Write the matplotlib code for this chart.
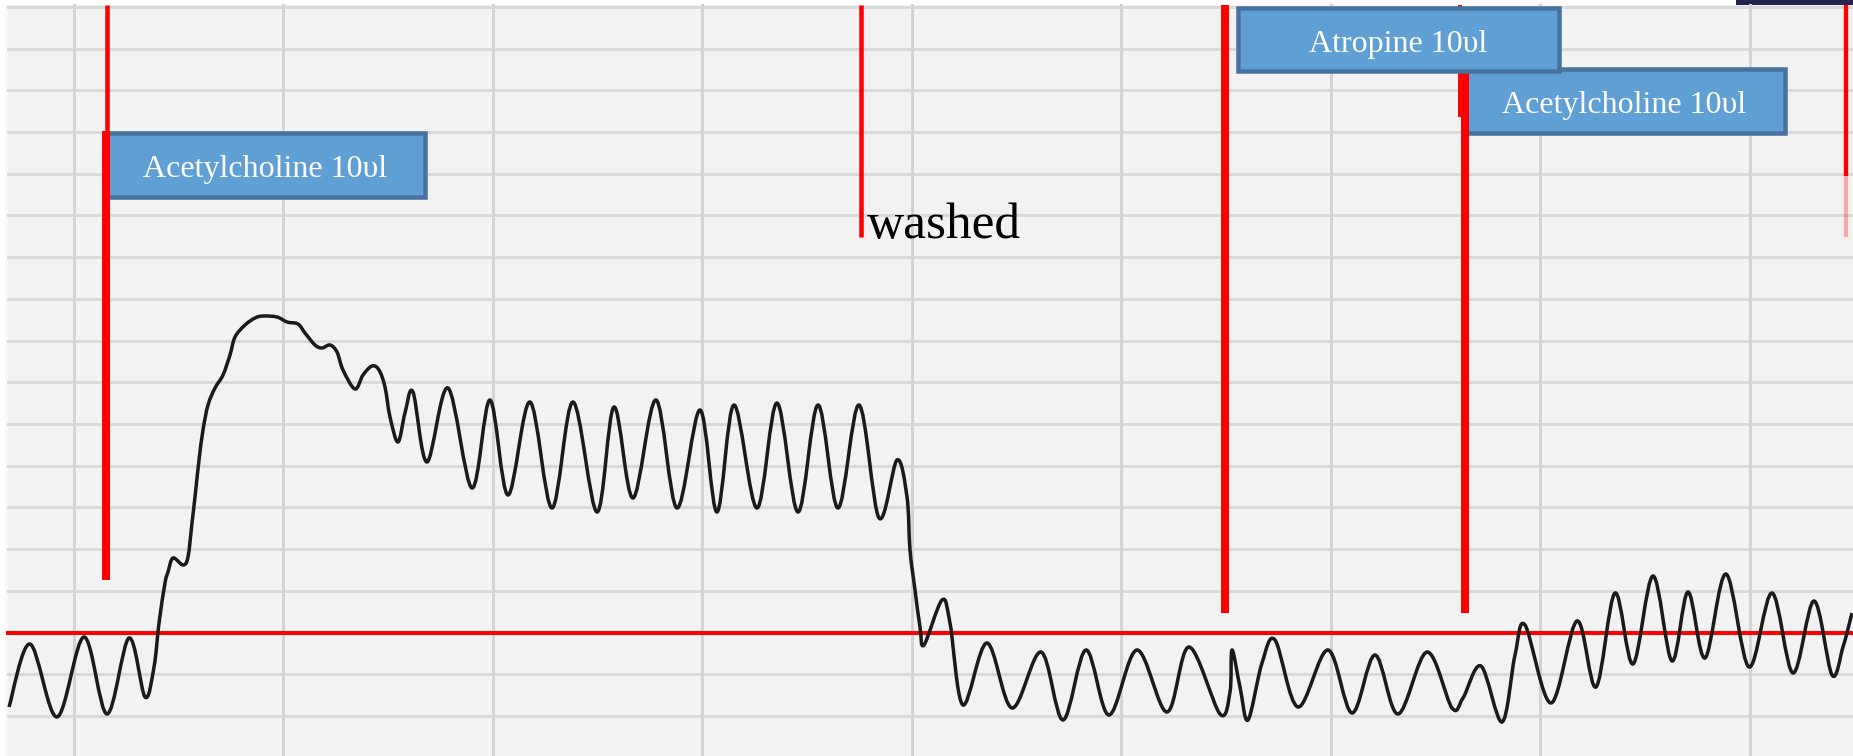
#!/usr/bin/env python3

import numpy as np
from matplotlib import pyplot as plt
from matplotlib.patches import Rectangle, PathPatch
from matplotlib.path import Path

# Kymograph trace (x = time column, y = pen position, both in pixels)
TRACE_X = [9, 30, 57, 84, 107, 129, 145, 154, 159, 165, 168, 173, 183, 188, 192, 195, 199,
           203, 208, 215, 223, 230, 235, 245, 255, 263, 277, 287, 298, 305, 315, 322, 330,
           337, 343, 355, 363, 372, 379, 385, 390, 398, 405, 413, 427, 448, 472, 490, 508,
           530, 552, 573, 597, 614, 633, 656, 677, 700, 717, 734, 757, 777, 798, 818, 838,
           859, 879, 897, 907, 910, 915, 920, 924, 942, 950, 963, 987, 1012, 1041, 1063,
           1086, 1109, 1137, 1167, 1189, 1220, 1230, 1232, 1240, 1248, 1262, 1275, 1298,
           1328, 1352, 1375, 1398, 1427, 1452, 1463, 1481, 1502, 1515, 1525, 1551, 1577,
           1596, 1615, 1633, 1653, 1672, 1688, 1705, 1726, 1749, 1772, 1793, 1814, 1832,
           1843, 1852]
TRACE_Y = [707, 644, 717, 637, 714, 638, 697, 667, 623, 583, 572, 558, 565, 557, 523, 497, 460,
           430, 405, 388, 375, 355, 337, 325, 318, 316, 317, 322, 324, 333, 345, 348, 345,
           352, 370, 389, 375, 366, 370, 387, 417, 442, 413, 392, 462, 388, 488, 400, 495,
           402, 508, 402, 512, 407, 498, 400, 508, 410, 512, 405, 508, 403, 512, 405, 508,
           405, 518, 460, 497, 550, 590, 627, 645, 600, 623, 705, 643, 708, 652, 720,
           650, 715, 650, 712, 647, 714, 692, 650, 687, 720, 663, 640, 707,
           650, 713, 655, 714, 652, 708, 698, 666, 722, 655, 625, 703, 621,
           687, 593, 664, 576, 661, 592, 658, 574, 667, 593, 673, 601, 675,
           647, 613]

BASELINE_Y = 633
GRID_Y = 7 + 41.69 * np.arange(18)
GRID_X = 73.5 + 209.5 * np.arange(9)

LABELS = ['Acetylcholine 10\u03c5l', 'Atropine 10\u03c5l', 'Acetylcholine 10\u03c5l']

BG = '#f2f2f2'
GRID = '#d9d9d9'
RED = '#ff0000'
BOX_FILL = '#5f9fd4'
BOX_EDGE = '#46739e'
SERIF = ['Liberation Serif', 'DejaVu Serif']


def px(w):
  # pixel width -> points at 100 dpi
  return w * 0.72


def pen_path(xs, ys):
  # smooth pen stroke through the read vertices (cubic bezier, catmull-rom tangents)
  pts = np.column_stack([xs, ys]).astype(float)
  verts = [pts[0]]
  codes = [Path.MOVETO]
  n = len(pts)
  for i in range(n - 1):
    p0 = pts[max(i - 1, 0)]
    p1 = pts[i]
    p2 = pts[i + 1]
    p3 = pts[min(i + 2, n - 1)]
    verts += [p1 + (p2 - p0) / 6.0, p2 - (p3 - p1) / 6.0, p2]
    codes += [Path.CURVE4] * 3
  return Path(verts, codes)


def red_line(ax, x, y0, y1, w, alpha=1.0, z=4):
  ax.plot([x, x], [y0, y1], color=RED, lw=px(w), solid_capstyle='butt', alpha=alpha, zorder=z)


def label_box(ax, x0, y0, x1, y1, text, z):
  ax.add_patch(Rectangle((x0, y0), x1 - x0, y1 - y0, facecolor=BOX_FILL, edgecolor=BOX_EDGE,
                         lw=px(4.5), zorder=z))
  ax.text((x0 + x1) / 2, (y0 + y1) / 2 + 5, text, ha='center', va='center', color='white',
          fontsize=23, family=SERIF, zorder=z + 0.1)


def main():
  fig = plt.figure(figsize=(18.53, 7.56), dpi=100)
  fig.patch.set_facecolor('white')
  ax = fig.add_axes([0, 0, 1, 1])
  ax.set_xlim(0, 1853)
  ax.set_ylim(756, 0)
  ax.axis('off')

  # paper and grid
  ax.add_patch(Rectangle((8, 5), 1845, 751, facecolor=BG, edgecolor='none', zorder=0))
  ax.add_patch(Rectangle((5, 5), 3, 751, facecolor='#f8f8f8', edgecolor='none', zorder=0))
  ax.add_patch(Rectangle((1736, 0), 117, 5, facecolor='#22234f', edgecolor='none', zorder=0))
  for y in GRID_Y:
    ax.plot([8, 1853], [y, y], color=GRID, lw=px(3), zorder=1)
  for x in GRID_X:
    ax.plot([x, x], [5, 756], color='#d3d3d3', lw=px(3), zorder=1)

  # baseline
  ax.plot([8, 1853], [BASELINE_Y, BASELINE_Y], color=RED, lw=px(4), zorder=2)

  # trace
  ax.add_patch(PathPatch(pen_path(TRACE_X, TRACE_Y), facecolor='none', edgecolor='#1a1a1a',
                         lw=px(3.5), joinstyle='round', zorder=3))

  # drug marks
  red_line(ax, 107, 5, 132, 4.5)
  label_box(ax, 105, 133, 425, 197, LABELS[0], z=3.5)
  red_line(ax, 105.5, 131, 580, 8)

  red_line(ax, 861, 5, 237, 4.5)
  ax.text(867, 238, 'washed', ha='left', va='baseline', color='black', fontsize=37,
          family=SERIF, zorder=5)

  red_line(ax, 1225, 5, 613, 8)

  label_box(ax, 1463, 69, 1785, 133, LABELS[2], z=3.5)
  red_line(ax, 1460, 5, 117, 4)
  red_line(ax, 1465, 69, 613, 8)
  label_box(ax, 1238, 8, 1559, 71, LABELS[1], z=6)

  red_line(ax, 1846, 5, 176, 4.3)
  red_line(ax, 1846, 176, 237, 4.3, alpha=0.3)

  fig.savefig('out.png', dpi=100)


if __name__ == '__main__':
  main()
